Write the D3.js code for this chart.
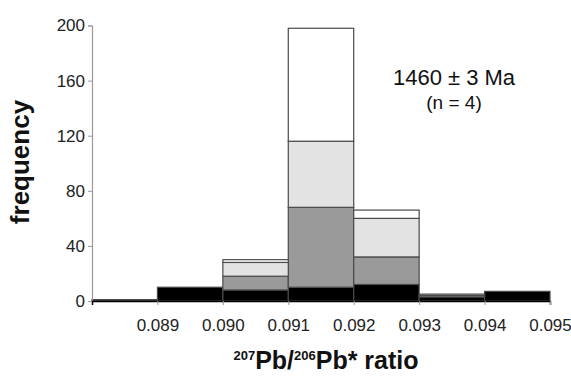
<!DOCTYPE html>
<html>
<head>
<meta charset="utf-8">
<script src="https://cdn.jsdelivr.net/npm/d3@7"></script>
<style>
  body { margin: 0; background: #fff; }
  text { font-family: "Liberation Sans", Arial, sans-serif; }
</style>
</head>
<body>
<div id="main"></div>
<script>
// bin lower edges (207Pb/206Pb* ratio), bin width 0.001
var binStarts = [0.088, 0.089, 0.090, 0.091, 0.092, 0.093, 0.094];
var binWidth = 0.001;

// stacked frequencies, one array per sample (bottom to top)
var sampleBlack = [1, 10, 8, 10, 12, 3, 7];
var sampleDark = [0, 0, 10, 58, 20, 0, 0];
var sampleLight = [0, 0, 10, 48, 28, 1, 0];
var sampleWhite = [0, 0, 2, 82, 6, 1, 0];

var xTicks = [0.089, 0.090, 0.091, 0.092, 0.093, 0.094, 0.095];
var yTicks = [0, 40, 80, 120, 160, 200];

var CONFIG = {
  width: 571,
  height: 376,
  left: 92,
  right: 550,
  top: 25.5,
  bottom: 301
};

var seriesKeys = ["black", "dark", "light", "white"];
var fills = { black: "#000", dark: "#9a9a9a", light: "#e3e3e3", white: "#fff" };

var table = binStarts.map((b, i) => ({
  x0: b,
  black: sampleBlack[i],
  dark: sampleDark[i],
  light: sampleLight[i],
  white: sampleWhite[i]
}));

var xScale = d3.scaleLinear().domain([0.088, 0.095]).range([CONFIG.left, CONFIG.right]);
var yScale = d3.scaleLinear().domain([0, 200]).range([CONFIG.bottom, CONFIG.top]);

var svg = d3.select("#main").append("svg")
  .attr("width", CONFIG.width)
  .attr("height", CONFIG.height);

var stack = d3.stack().keys(seriesKeys)(table);

// Bars
svg.append("g")
  .attr("id", "bars")
  .selectAll("g")
  .data(stack)
  .enter().append("g")
  .attr("fill", d => fills[d.key])
  .selectAll("rect")
  .data(d => d.filter(s => s[1] - s[0] > 0))
  .enter().append("rect")
  .attr("x", d => xScale(d.data.x0))
  .attr("width", d => xScale(d.data.x0 + binWidth) - xScale(d.data.x0))
  .attr("y", d => yScale(d[1]))
  .attr("height", d => yScale(d[0]) - yScale(d[1]))
  .attr("stroke", "#4a4a4a")
  .attr("stroke-width", 1.2);

// Y axis
var yAxis = svg.append("g")
  .attr("transform", "translate(" + CONFIG.left + ",0)")
  .call(d3.axisLeft(yScale).tickValues(yTicks).tickSize(4).tickPadding(3));
yAxis.select(".domain").attr("stroke", "#999").attr("stroke-width", 1.2);
yAxis.selectAll(".tick line").attr("stroke", "#999");
yAxis.selectAll(".tick text")
  .attr("fill", "#222")
  .style("font-size", "17px")
  .style("font-family", "'Liberation Sans', Arial, sans-serif");

// X axis
var xAxis = svg.append("g")
  .attr("transform", "translate(0," + CONFIG.bottom + ")")
  .call(d3.axisBottom(xScale).tickValues(xTicks).tickFormat(d3.format(".3f")).tickSize(4).tickPadding(14));
xAxis.select(".domain").attr("stroke", "#000").attr("stroke-width", 1.5);
xAxis.selectAll(".tick line").attr("stroke", "#999");
xAxis.selectAll(".tick text")
  .attr("fill", "#222")
  .style("font-size", "17px")
  .style("font-family", "'Liberation Sans', Arial, sans-serif");

// Annotation
svg.append("text")
  .attr("x", 454).attr("y", 85)
  .attr("text-anchor", "middle")
  .attr("fill", "#111")
  .style("font-size", "22px")
  .text("1460 ± 3 Ma");
svg.append("text")
  .attr("x", 454).attr("y", 109)
  .attr("text-anchor", "middle")
  .attr("fill", "#111")
  .style("font-size", "19px")
  .text("(n = 4)");

// Axis titles
svg.append("text")
  .attr("transform", "translate(29,162) rotate(-90)")
  .attr("text-anchor", "middle")
  .attr("fill", "#111")
  .style("font-size", "26px")
  .style("font-weight", "bold")
  .text("frequency");

var xTitle = svg.append("text")
  .attr("x", 326).attr("y", 369)
  .attr("text-anchor", "middle")
  .attr("fill", "#111")
  .style("font-size", "25px")
  .style("font-weight", "bold");
xTitle.append("tspan").attr("dy", -9).style("font-size", "13px").text("207");
xTitle.append("tspan").attr("dy", 9).text("Pb/");
xTitle.append("tspan").attr("dy", -9).style("font-size", "13px").text("206");
xTitle.append("tspan").attr("dy", 9).text("Pb* ratio");
</script>
</body>
</html>
